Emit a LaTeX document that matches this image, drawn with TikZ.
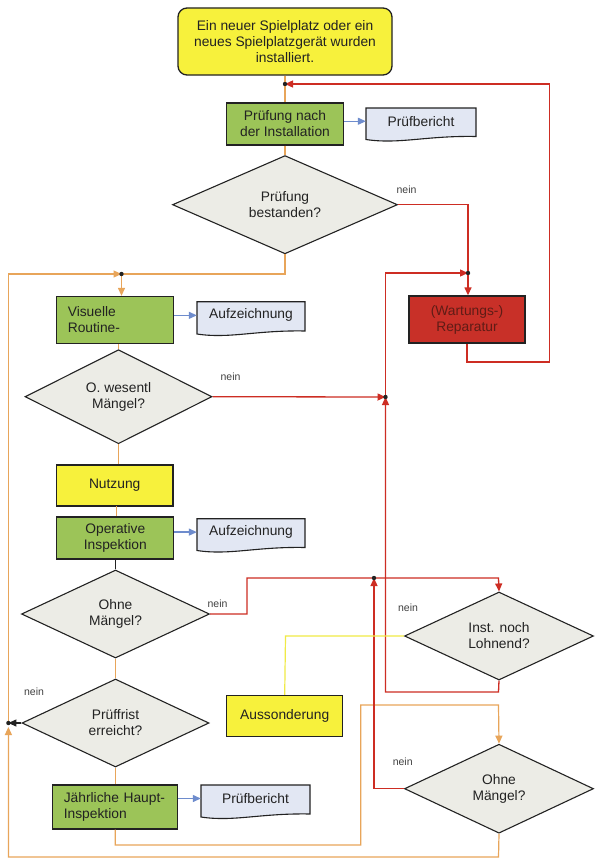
\documentclass[tikz,border=0pt]{standalone}
\usepackage{fontspec}
\setmainfont{Liberation Sans}
\usetikzlibrary{shapes.geometric,arrows.meta,calc}
\definecolor{cyel}{RGB}{247,241,60}
\definecolor{cgreen}{RGB}{156,196,88}
\definecolor{credbox}{RGB}{200,48,40}
\definecolor{credtext}{RGB}{95,28,22}
\definecolor{cdia}{RGB}{236,236,230}
\definecolor{cdoc}{RGB}{226,231,243}
\definecolor{corange}{RGB}{232,165,90}
\definecolor{cred}{RGB}{205,45,35}
\definecolor{cblue}{RGB}{110,140,205}
\definecolor{cyline}{RGB}{240,234,70}
\definecolor{cdark}{RGB}{34,34,34}
\newcommand\mkdoc[6]{%
  \filldraw[docfill] (#2,#3) -- (#4,#3) -- (#4,#5-6)
    .. controls ({#4-0.45*(#4-#2)},#5-7) and ({#2+0.3*(#4-#2)},#5+2) .. (#2,#5-3) -- cycle;
  \node[doctext, minimum width={(#4-#2)*1pt}, minimum height={(#5-#3-8)*1pt}] (#1)
    at ({(#2+#4)/2},{#3+(#5-#3-8)/2}) {#6};
}
\begin{document}
\begin{tikzpicture}[x=1pt,y=-1pt,
  every node/.style={font=\fontsize{13.8}{16}\selectfont, text=cdark},
  box/.style={draw=cdark, line width=1.3pt, inner sep=2pt, align=center},
  greenbox/.style={box, fill=cgreen},
  yelbox/.style={box, fill=cyel},
  dia/.style={diamond, draw=cdark, line width=1.1pt, fill=cdia, inner sep=0pt, align=center},
  docfill/.style={draw=cdark, line width=1.1pt, fill=cdoc},
  doctext/.style={draw=none, inner sep=0pt},
  tip/.style={-{Triangle[length=8pt,width=7pt]}},
  oline/.style={draw=corange, line width=1.2pt},
  rline/.style={draw=cred, line width=1.3pt},
  bline/.style={draw=cblue, line width=1.3pt, tip},
  yline/.style={draw=cyline, line width=1.2pt},
  kline/.style={draw=cdark, line width=1.2pt},
  neinlbl/.style={font=\fontsize{10.5}{12}\selectfont, text=black!75, inner sep=0pt},
  dot/.style={fill=cdark}
]
\fill[white] (0,0) rectangle (596,867);
\useasboundingbox (0,0) rectangle (596,867);

% ---------- nodes ----------
\node[yelbox, rounded corners=9pt, minimum width=214pt, minimum height=67pt] (top) at (285,41.5)
  {Ein neuer Spielplatz oder ein\\neues Spielplatzgerät wurden\\installiert.};
\node[greenbox, minimum width=117pt, minimum height=42pt] (pn) at (285,124) {Prüfung nach\\der Installation};
\mkdoc{d1}{366}{108}{476}{142.5}{Prüfbericht}
\node[dia, minimum width=225pt, minimum height=88pt] (pbest) at (285,204.7) {Prüfung\\bestanden?};

\node[greenbox, minimum width=117pt, minimum height=47pt, text width=95pt, align=left] (vis) at (115.3,320) {Visuelle\\Routine-};
\mkdoc{d2}{197}{301.7}{305}{337}{Aufzeichnung}
\node[dia, minimum width=187pt, minimum height=88pt] (owes) at (118.5,396.7) {O. wesentl\\Mängel?};
\node[yelbox, minimum width=116.5pt, minimum height=41pt] (nutz) at (114.7,485.5) {Nutzung};
\node[greenbox, minimum width=117pt, minimum height=42pt] (oper) at (115.3,538) {Operative\\Inspektion};
\mkdoc{d3}{197}{518.7}{305}{553.5}{Aufzeichnung}
\node[dia, minimum width=188pt, minimum height=88pt] (ohne1) at (115.5,614) {Ohne\\Mängel?};
\node[dia, minimum width=187pt, minimum height=88pt] (pfrist) at (115.5,723) {Prüffrist\\erreicht?};
\node[greenbox, minimum width=125pt, minimum height=44pt, text width=103pt, align=left] (jahr) at (115.3,807) {Jährliche Haupt-\\Inspektion};
\mkdoc{d4}{201}{785}{310}{820}{Prüfbericht}

\node[box, fill=credbox, text=credtext, minimum width=116pt, minimum height=47pt] (rep) at (467,319.5) {(Wartungs-)\\Reparatur};
\node[dia, minimum width=189pt, minimum height=88pt] (inst) at (499,636) {Inst. noch\\Lohnend?};
\node[yelbox, minimum width=116pt, minimum height=41pt] (auss) at (284.7,716) {Aussonderung};
\node[dia, minimum width=189pt, minimum height=89pt] (ohne2) at (499,788.7) {Ohne\\Mängel?};

% ---------- junctions ----------
\coordinate (j0) at (285,84);
\coordinate (j1) at (121.5,274);
\coordinate (j2) at (8.4,723);
\coordinate (j3) at (468,273);
\coordinate (j4) at (385.5,397);
\coordinate (j5) at (374,578);

% ---------- connectors: orange main flow ----------
\draw[oline] (top.south) -- (pn.north);
\draw[oline] (pn.south) -- (pbest.north);
\draw[oline] (pbest.south) -- (285,274) -- (j1);
\draw[oline, tip] (j1) -- (j1 |- vis.north);
\draw[oline] (owes.north |- vis.south) -- (owes.north);
\draw[oline] (owes.south) -- (owes.south |- nutz.north);
\draw[oline] (116.4,506) -- (oper.north -| 116.4,0);
\draw[kline] (oper.south -| ohne1.north) -- (ohne1.north);
\draw[oline] (ohne1.south) -- (pfrist.north);
\draw[oline] (pfrist.south) -- (pfrist.south |- jahr.north);
\draw[oline, tip] (jahr.south) -- (115.3,845) -- (360.7,845) -- (360.7,705) -- (498.5,705) -- (ohne2.north);
\draw[oline, tip] (ohne2.south) -- (498.5,857) -- (8.4,857) -- (8.4,727);
\draw[oline, tip] (j2) -- (8.4,274) -- (j1);
\draw[kline, tip] (pfrist.west) -- (j2);

% ---------- red ----------
\draw[rline, tip] (rep.south) -- (467,362) -- (549.6,362) -- (549.6,84) -- (j0);
\draw[rline, tip] (pbest.east) -- (468,204.7) -- (rep.north -| 468,0);
\draw[rline, tip] (j4) -- (385.5,273) -- (j3);
\draw[rline, tip] (owes.east) -- (j4);
\draw[rline, tip] (inst.south) -- (498.5,692) -- (385.5,692) -- (j4);
\draw[rline, tip] (ohne1.east) -- (247,614) -- (247,578) -- (498.5,578) -- (inst.north);
\draw[rline, tip] (ohne2.west) -- (374,788.7) -- (j5);

% ---------- yellow ----------
\draw[yline] (inst.west) -- (285.5,636) -- (auss.north);

% ---------- blue ----------
\draw[bline] (pn.east |- d1.west) -- (d1.west);
\draw[bline] (vis.east |- d2.west) -- (d2.west);
\draw[bline] (oper.east |- d3.west) -- (d3.west);
\draw[bline] (jahr.east |- d4.west) -- (d4.west);

% ---------- dots ----------
\foreach \j in {j0,j1,j2,j3,j4,j5} \fill[dot] (\j) circle (2.2pt);

% ---------- labels ----------
\node[neinlbl] (n1) at (406.5,190) {nein};
\node[neinlbl] (n2) at (230.5,377) {nein};
\node[neinlbl] (n3) at (217.5,604) {nein};
\node[neinlbl] (n4) at (408,608) {nein};
\node[neinlbl] (n5) at (34,692) {nein};
\node[neinlbl] (n6) at (402.7,762) {nein};
\end{tikzpicture}
\end{document}
